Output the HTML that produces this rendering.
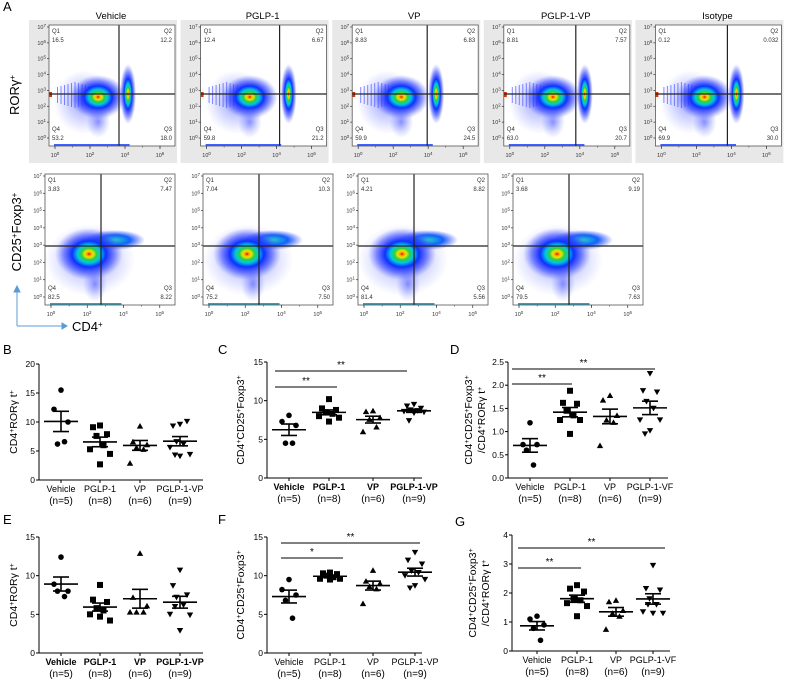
<!DOCTYPE html>
<html><head><meta charset="utf-8">
<style>
html,body{margin:0;padding:0;background:#fff;}
svg{display:block;font-family:"Liberation Sans",Arial,sans-serif;}
</style></head>
<body>
<svg id="fig" width="793" height="681" viewBox="0 0 793 681" xmlns="http://www.w3.org/2000/svg">
<defs>
<radialGradient id="heat" cx="50%" cy="50%" r="50%">
<stop offset="0" stop-color="#e00000"/>
<stop offset="0.06" stop-color="#ff9900"/>
<stop offset="0.13" stop-color="#e8e800"/>
<stop offset="0.22" stop-color="#30d040"/>
<stop offset="0.34" stop-color="#00c8e0"/>
<stop offset="0.5" stop-color="#1030ff"/>
<stop offset="0.75" stop-color="#3040ff" stop-opacity="0.55"/>
<stop offset="1" stop-color="#6070ff" stop-opacity="0"/>
</radialGradient>
<radialGradient id="cool" cx="50%" cy="50%" r="50%">
<stop offset="0" stop-color="#20d8c0"/>
<stop offset="0.5" stop-color="#1060ff"/>
<stop offset="1" stop-color="#4050ff" stop-opacity="0"/>
</radialGradient>
<radialGradient id="haze" cx="50%" cy="50%" r="50%">
<stop offset="0" stop-color="#2030ff" stop-opacity="0.5"/>
<stop offset="1" stop-color="#5060ff" stop-opacity="0"/>
</radialGradient>
</defs>
<text x="3" y="11" font-size="13">A</text>
<text transform="translate(19,95) rotate(-90)" font-size="13" text-anchor="middle">RORγ<tspan baseline-shift="super" font-size="8">+</tspan></text>
<text transform="translate(21,232) rotate(-90)" font-size="13" text-anchor="middle">CD25<tspan baseline-shift="super" font-size="8">+</tspan>Foxp3<tspan baseline-shift="super" font-size="8">+</tspan></text>
<g stroke="#5b9bd5" stroke-width="1" fill="#5b9bd5">
<line x1="17" y1="326" x2="17" y2="290"/><polygon points="14,292 20,292 17,286"/>
<line x1="17" y1="326" x2="62" y2="326"/><polygon points="62,323 62,329 67,326"/>
</g>
<text x="72" y="331" font-size="13">CD4<tspan baseline-shift="super" font-size="8">+</tspan></text>
<g id="flows"></g>
<g id="scatters"></g>
</svg>
<script>
const NS="http://www.w3.org/2000/svg";
function mk(tag,attrs,parent,txt){const e=document.createElementNS(NS,tag);for(const k in attrs)e.setAttribute(k,attrs[k]);if(txt!==undefined)e.textContent=txt;parent.appendChild(e);return e;}

const row1Titles=["Vehicle","PGLP-1","VP","PGLP-1-VP","Isotype"];
const row1Q1=["16.5","12.4","8.83","8.81","0.12"];
const row1Q2=["12.2","6.67","6.83","7.57","0.032"];
const row1Q3=["18.0","21.2","24.5","20.7","30.0"];
const row1Q4=["53.2","59.8","59.9","63.0","69.9"];
const row2Q1=["3.83","7.04","4.21","3.68"];
const row2Q2=["7.47","10.3","8.82","9.19"];
const row2Q3=["8.22","7.50","5.56","7.63"];
const row2Q4=["82.5","75.2","81.4","79.5"];

const flows=document.getElementById('flows');
function decadeLabel(g,x,y,n,anchor){
  const t=mk('text',{x:x,y:y,'font-size':5.5,'text-anchor':anchor,fill:'#333'},g);
  t.appendChild(document.createTextNode('10'));
  mk('tspan',{'baseline-shift':'super','font-size':4.5},t,String(n));
}
function flowPlot(x,y,w,h,vx,hy,q,row,idx){
  const g=mk('g',{},flows);
  
  
  const cp='clip'+row+idx;
  const c=mk('clipPath',{id:cp},g);mk('rect',{x:x,y:y,width:w,height:h},c);
  const inner=mk('g',{'clip-path':'url(#'+cp+')'},g);
  mk('rect',{x:x,y:y,width:w,height:h,fill:'#fff'},inner);
  if(row===1){
    mk('ellipse',{cx:x+35,cy:y+hy+8,rx:30,ry:32,fill:'url(#haze)'},inner);
    for(let i=0;i<10;i++)mk('rect',{x:x+8+i*3.5,y:y+hy-12+Math.abs(5-i),width:1,height:26-Math.abs(5-i)*2,fill:'#3040ff',opacity:0.6},inner);
    mk('ellipse',{cx:x+w*0.39,cy:y+hy+3,rx:28,ry:22,fill:'url(#heat)'},inner);
    mk('ellipse',{cx:x+w*0.39,cy:y+hy+28,rx:12,ry:16,fill:'url(#haze)'},inner);
    mk('ellipse',{cx:x+vx+9,cy:y+hy,rx:8,ry:30,fill:'url(#heat)'},inner);
    mk('rect',{x:x,y:y+hy-2,width:3,height:5,fill:'#e03000'},inner);
    mk('rect',{x:x+5,y:y+h-2,width:w*0.6,height:2,fill:'#4060ff'},inner);
  } else {
    mk('ellipse',{cx:x+vx+14,cy:y+hy-6,rx:30,ry:10,fill:'url(#cool)'},inner);
    mk('ellipse',{cx:x+45,cy:y+hy+14,rx:45,ry:36,fill:'url(#haze)'},inner);
    mk('ellipse',{cx:x+44,cy:y+hy+8,rx:34,ry:26,fill:'url(#heat)'},inner);
    mk('ellipse',{cx:x+50,cy:y+hy+38,rx:12,ry:18,fill:'url(#haze)'},inner);
    mk('rect',{x:x+5,y:y+h-2,width:w*0.55,height:2,fill:'#30a0c0'},inner);
  }
  mk('line',{x1:x+vx,y1:y,x2:x+vx,y2:y+h,stroke:'#222','stroke-width':1.2},g);
  mk('line',{x1:x,y1:y+hy,x2:x+w,y2:y+hy,stroke:'#222','stroke-width':1.2},g);
  mk('rect',{x:x,y:y,width:w,height:h,fill:'none',stroke:'#555','stroke-width':0.8},g);
  const fs=6;
  mk('text',{x:x+3,y:y+8,'font-size':fs,fill:'#333'},g,'Q1');
  mk('text',{x:x+3,y:y+17,'font-size':fs,fill:'#333'},g,q[0]);
  mk('text',{x:x+w-3,y:y+8,'font-size':fs,fill:'#333','text-anchor':'end'},g,'Q2');
  mk('text',{x:x+w-3,y:y+17,'font-size':fs,fill:'#333','text-anchor':'end'},g,q[1]);
  mk('text',{x:x+w-3,y:y+h-15,'font-size':fs,fill:'#333','text-anchor':'end'},g,'Q3');
  mk('text',{x:x+w-3,y:y+h-6,'font-size':fs,fill:'#333','text-anchor':'end'},g,q[2]);
  mk('text',{x:x+3,y:y+h-15,'font-size':fs,fill:'#333'},g,'Q4');
  mk('text',{x:x+3,y:y+h-6,'font-size':fs,fill:'#333'},g,q[3]);
  for(let n=0;n<=7;n++){const ty=y+h-8-n*(h-10)/7;
    mk('line',{x1:x-2,y1:ty,x2:x,y2:ty,stroke:'#333','stroke-width':0.7},g);
    decadeLabel(g,x-3,ty+2,n,'end');}
  for(let n=0;n<=6;n+=2){const tx=x+6+n*(w-14)/6.4;
    mk('line',{x1:tx,y1:y+h,x2:tx,y2:y+h+3,stroke:'#333','stroke-width':0.7},g);
    decadeLabel(g,tx,y+h+11,n,'middle');}
  for(let n=0;n<=6;n++){const tx=x+6+n*(w-14)/6.4;
    mk('line',{x1:tx,y1:y+h,x2:tx,y2:y+h+1.5,stroke:'#333','stroke-width':0.5},g);}
}
for(let i=0;i<5;i++){
  const bx=29+i*151.6;
  const bg=mk('rect',{x:bx,y:20,width:148,height:143,fill:'#e8e8e8'},flows);
  
  
  const t=mk('text',{x:bx+82,y:19,'font-size':9.5,'text-anchor':'middle'},flows,row1Titles[i]);
  
  
  flowPlot(bx+20,25,126,121,[70,79,75,72,72][i],69,[row1Q1[i],row1Q2[i],row1Q3[i],row1Q4[i]],1,i);
}
const r2x=[45,203,358,513];
for(let i=0;i<4;i++){
  flowPlot(r2x[i],174,130,131,56,72,[row2Q1[i],row2Q2[i],row2Q3[i],row2Q4[i]],2,i);
}

const cats=["Vehicle","PGLP-1","VP","PGLP-1-VP"];
const catsG=["Vehicle","PGLP-1","VP","PGLP-1-VF"];
const ns=["(n=5)","(n=8)","(n=6)","(n=9)"];
const bVeh=[15.5,12.2,10,6.2,6.6];
const bPg=[9.4,9.1,7.9,7.6,6.0,5.3,4.5,2.7];
const bVp=[9.3,6.6,6.1,5.6,5.3,2.9];
const bPv=[9.6,9.3,10.1,6.6,6.2,5.6,4.4,4.1,4.3];
const cVeh=[8.1,7.3,6.8,4.5,4.5];
const cPg=[10.2,9.0,8.8,8.5,8.3,8.0,7.8,7.3];
const cVp=[8.7,8.6,7.8,7.6,6.6,6.0];
const cPv=[9.5,9.3,9.0,8.8,8.7,8.6,8.5,8.4,7.4];
const dVeh=[1.19,0.72,0.72,0.6,0.28];
const dPg=[1.88,1.62,1.6,1.45,1.35,1.25,1.25,0.95];
const dVp=[1.78,1.68,1.35,1.25,1.2,0.7];
const dPv=[2.25,1.88,1.85,1.65,1.5,1.25,1.25,1.02,0.95];
const eVeh=[12.4,8.9,8.0,8.0,7.3];
const ePg=[8.8,6.9,6.6,5.8,5.5,5.0,4.2,4.7];
const eVp=[12.9,7.2,6.1,5.3,5.3,5.3];
const ePv=[10.7,8.7,7.5,7.2,6.2,5.0,4.9,2.9,6.0];
const fVeh=[9.5,8.2,7.5,6.8,4.5];
const fPg=[10.4,10.3,10.2,10.0,9.8,9.6,9.6,9.5];
const fVp=[10.7,9.3,9.0,8.6,8.3,6.4];
const fPv=[13.0,12.0,11.5,10.6,10.4,10.0,9.5,8.7,8.4];
const gVeh=[1.2,1.1,0.9,0.78,0.37];
const gPg=[2.27,2.15,2.05,1.8,1.75,1.65,1.55,1.2];
const gVp=[1.75,1.7,1.4,1.3,1.2,0.75];
const gPv=[2.95,2.15,2.1,1.8,1.6,1.35,1.3,1.3,1.6];
const bTicks=[0,5,10,15,20];
const cTicks=[0,5,10,15];
const dTicks=[0,0.5,1.0,1.5,2.0,2.5];
const eTicks=[0,5,10,15];
const fTicks=[0,5,10,15];
const gTicks=[0,1,2,3,4];
const dTickLabels=["0.0","0.5","1.0","1.5","2.0","2.5"];

const sc=document.getElementById('scatters');
const offs=[0,-7,7,-3.5,3.5,-10,10,0,-5,5];
function marker(g,shape,x,y){
  const s=3;
  if(shape===0)return mk('circle',{cx:x,cy:y,r:2.8,fill:'#000'},g);
  if(shape===1)return mk('rect',{x:x-s,y:y-s,width:2*s,height:2*s,fill:'#000'},g);
  if(shape===2)return mk('polygon',{points:`${x-3.2},${y+2.6} ${x+3.2},${y+2.6} ${x},${y-3}`,fill:'#000'},g);
  return mk('polygon',{points:`${x-3.2},${y-2.6} ${x+3.2},${y-2.6} ${x},${y+3}`,fill:'#000'},g);
}
function panel(o){
  const g=mk('g',{},sc);
  
  
  const ymin=o.ticks[0],ymax=o.ticks[o.ticks.length-1];
  const Y=v=>o.y0-(v-ymin)/(ymax-ymin)*(o.y0-o.yTop);
  const lab=mk('text',{x:o.lx,y:o.ly,'font-size':13},g,o.id.toUpperCase());
  
  
  mk('line',{x1:o.ax,y1:o.yTop,x2:o.ax,y2:o.y0,stroke:'#000','stroke-width':1},g);
  mk('line',{x1:o.ax,y1:o.y0,x2:o.ax+o.w,y2:o.y0,stroke:'#000','stroke-width':1},g);
  o.ticks.forEach((t,i)=>{const ty=Y(t);
    mk('line',{x1:o.ax-3,y1:ty,x2:o.ax,y2:ty,stroke:'#000','stroke-width':1},g);
    const tl=mk('text',{x:o.ax-4,y:ty+3,'font-size':8.5,'text-anchor':'end'},g,o.tlabels?o.tlabels[i]:String(t));
    
    
  });
  o.cx.forEach(cx=>mk('line',{x1:cx,y1:o.y0,x2:cx,y2:o.y0+3,stroke:'#000','stroke-width':1},g));
  const yt=mk('text',{transform:`translate(${o.ytx},${(o.y0+o.yTop)/2}) rotate(-90)`,'font-size':10.5,'text-anchor':'middle'},g);
  
  
  o.ytitle(yt);
  o.data.forEach((arr,ci)=>{
    const cx=o.cx[ci];
    arr.forEach((v,k)=>{const m=marker(g,ci,cx+offs[k%offs.length],Y(v));
      
      });
    const mean=arr.reduce((a,b)=>a+b,0)/arr.length;
    const sd=Math.sqrt(arr.reduce((a,b)=>a+(b-mean)*(b-mean),0)/(arr.length-1));
    const se=sd/Math.sqrt(arr.length);
    const ml=mk('line',{x1:cx-17,y1:Y(mean),x2:cx+17,y2:Y(mean),stroke:'#000','stroke-width':1.6},g);
    
    
    mk('line',{x1:cx,y1:Y(mean+se),x2:cx,y2:Y(mean-se),stroke:'#000','stroke-width':1.6},g);
    mk('line',{x1:cx-8,y1:Y(mean+se),x2:cx+8,y2:Y(mean+se),stroke:'#000','stroke-width':1.6},g);
    mk('line',{x1:cx-8,y1:Y(mean-se),x2:cx+8,y2:Y(mean-se),stroke:'#000','stroke-width':1.6},g);
    const xl=mk('text',{x:cx,y:o.y0+12,'font-size':9,'font-weight':o.bold?'bold':'normal','text-anchor':'middle'},g,o.cats[ci]);
    
    
    const nl=mk('text',{x:cx,y:o.y0+24,'font-size':10,'text-anchor':'middle'},g,ns[ci]);
    
    
  });
  (o.sig||[]).forEach(s=>{
    const l=mk('line',{x1:s[0],y1:s[2],x2:s[1],y2:s[2],stroke:'#000','stroke-width':1},g);
    
    
    mk('text',{x:(s[0]+s[1])/2,y:s[2]-3,'font-size':10,'text-anchor':'middle'},g,s[3]);
  });
}
function sup(t,s){mk('tspan',{'baseline-shift':'super','font-size':7},t,s);}
function txt(t,s){t.appendChild(document.createTextNode(s));}
const rorT=t=>{txt(t,'CD4');sup(t,'+');txt(t,'RORγ t');sup(t,'+');};
const fox=t=>{txt(t,'CD4');sup(t,'+');txt(t,'CD25');sup(t,'+');txt(t,'Foxp3');sup(t,'+');};
const ratio=(t)=>{const a=mk('tspan',{x:0,dy:-6},t);fox(a);const b=mk('tspan',{x:0,dy:13},t);txt(b,'/CD4');sup(b,'+');txt(b,'RORγ t');sup(b,'+');};

panel({id:'b',lx:3,ly:354,ax:39,w:164,y0:480,yTop:364,ticks:bTicks,cx:[61,100,140,180],cats:cats,data:[bVeh,bPg,bVp,bPv],ytx:17,ytitle:rorT});
panel({id:'c',lx:218,ly:354,ax:267,w:155,y0:478,yTop:362,ticks:cTicks,cx:[289,329,373,414],cats:cats,bold:true,data:[cVeh,cPg,cVp,cPv],ytx:244,ytitle:fox,
  sig:[[275,407,371,'**'],[275,337,387,'**']]});
panel({id:'d',lx:450,ly:354,ax:508,w:160,y0:478,yTop:362,ticks:dTicks,tlabels:dTickLabels,cx:[530,570,610,650],cats:catsG,data:[dVeh,dPg,dVp,dPv],ytx:478,ytitle:ratio,
  sig:[[512,655,369,'**'],[512,572,384,'**']]});
panel({id:'e',lx:3,ly:524,ax:39,w:164,y0:653,yTop:537,ticks:eTicks,cx:[61,100,140,180],cats:cats,bold:true,data:[eVeh,ePg,eVp,ePv],ytx:17,ytitle:rorT});
panel({id:'f',lx:218,ly:524,ax:267,w:155,y0:653,yTop:537,ticks:fTicks,cx:[289,330,373,415],cats:cats,data:[fVeh,fPg,fVp,fPv],ytx:244,ytitle:fox,
  sig:[[281,420,543,'**'],[281,343,558,'*']]});
panel({id:'g',lx:455,ly:526,ax:512,w:158,y0:651,yTop:535,ticks:gTicks,cx:[537,577,616,653],cats:catsG,data:[gVeh,gPg,gVp,gPv],ytx:482,ytitle:ratio,
  sig:[[518,665,548,'**'],[518,581,568,'**']]});
</script>
</body></html>
